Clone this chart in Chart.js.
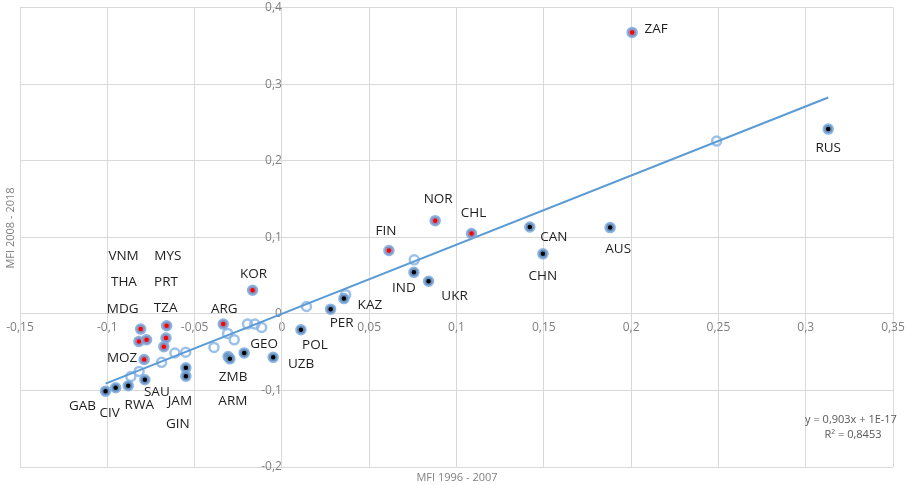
<!DOCTYPE html>
<html>
<head>
<meta charset="utf-8">
<script src="https://cdn.jsdelivr.net/npm/chart.js@4"></script>
<style>
  html, body { margin: 0; padding: 0; background: #fff; }
  #wrap { width: 907px; height: 485px; position: relative; }
</style>
</head>
<body>
<div id="wrap"><canvas id="chart"></canvas></div>
<script>
// countries with black marker
const blackNames = ['GAB', 'CIV', 'RWA', 'SAU', 'JAM', 'GIN', 'ZMB', 'ARM', 'GEO', 'UZB', 'POL', 'PER', 'KAZ', 'IND', 'UKR', 'CAN', 'CHN', 'AUS', 'RUS']
const blackX = [-0.101, -0.0952, -0.088, -0.0785, -0.055, -0.055, -0.0308, -0.0298, -0.0216, -0.005, 0.0109, 0.0279, 0.0355, 0.0756, 0.084, 0.142, 0.1495, 0.188, 0.3129]
const blackY = [-0.101, -0.0965, -0.0939, -0.0861, -0.0705, -0.0814, -0.0558, -0.0588, -0.051, -0.0568, -0.0208, 0.0061, 0.0199, 0.0542, 0.0425, 0.1134, 0.0783, 0.1126, 0.2412]

// countries with red marker
const redNames = ['ZAF', 'NOR', 'CHL', 'FIN', 'KOR', 'ARG', 'MDG', 'THA', 'VNM', 'TZA', 'PRT', 'MYS', 'MOZ']
const redX = [0.2006, 0.0878, 0.1086, 0.0613, -0.0168, -0.0336, -0.0809, -0.0819, -0.0775, -0.066, -0.0664, -0.0676, -0.0789]
const redY = [0.3675, 0.1217, 0.1048, 0.0827, 0.0308, -0.0134, -0.0199, -0.036, -0.0338, -0.0156, -0.0316, -0.0429, -0.0597]

// unlabelled hollow markers
const hollowX = [0.0141, 0.0758, 0.0365, -0.0197, -0.0155, -0.0116, -0.0311, -0.0273, -0.0389, -0.0551, -0.0613, -0.0689, -0.0818, -0.0865, 0.249]
const hollowY = [0.0095, 0.0705, 0.025, -0.0134, -0.0134, -0.0178, -0.0256, -0.034, -0.0438, -0.0502, -0.0511, -0.0633, -0.0752, -0.0818, 0.2256]

// trend line y = slope * x + intercept
const slope = 0.903
const intercept = 1e-17
const r2 = 0.8453

// label offsets in px from marker to text centre
const labelOffset = {
    GAB: [-23, 15], CIV: [-6, 25], RWA: [11, 19], SAU: [12, 12], JAM: [-6, 33], GIN: [-8, 48],
    ZMB: [5, 21], ARM: [3, 42], GEO: [20, -9], UZB: [28, 7], POL: [14, 15], PER: [11, 14],
    KAZ: [26, 7], IND: [-10, 16], UKR: [26, 15], CAN: [24, 10], CHN: [0, 22], AUS: [8, 22],
    RUS: [0, 19], ZAF: [24, -3], NOR: [3, -21], CHL: [2, -20], FIN: [-3, -19], KOR: [1, -16],
    ARG: [1, -15], MDG: [-18, -20], THA: [-15, -59], VNM: [-23, -84], TZA: [-1, -18],
    PRT: [0, -56], MYS: [4, -91], MOZ: [-22, -1]
}

function toPoints(xs, ys) {
    return xs.map((x, i) => ({ x: x, y: ys[i] }))
}

function fmt(v) {
    const r = Math.round(v * 100) / 100
    return String(r).replace('.', ',')
}

// axes sit inside the plot, so they should not push the chart area in
function noPad(scale) {
    scale.paddingTop = 0
    scale.paddingBottom = 0
    scale.paddingLeft = 0
    scale.paddingRight = 0
}

const allX = blackX.concat(redX)
const xMin = Math.min(...allX)
const xMax = Math.max(...allX)

const labelPlugin = {
    id: 'labels',
    afterDatasetsDraw(chart) {
        const ctx = chart.ctx
        const xs = chart.scales.x
        const ys = chart.scales.y
        ctx.save()
        ctx.font = '13.5px "Open Sans"'
        ctx.fillStyle = '#1e1e1e'
        ctx.textAlign = 'center'
        ctx.textBaseline = 'middle'
        const draw = (names, xv, yv) => {
            names.forEach((n, i) => {
                const off = labelOffset[n] || [0, 0]
                ctx.fillText(n, xs.getPixelForValue(xv[i]) + off[0], ys.getPixelForValue(yv[i]) + off[1])
            })
        }
        draw(blackNames, blackX, blackY)
        draw(redNames, redX, redY)

        // axis titles
        ctx.font = '11px "Open Sans"'
        ctx.fillStyle = '#7f7f7f'
        ctx.fillText('MFI 1996 - 2007', 457, 478)
        ctx.save()
        ctx.translate(11, 228)
        ctx.rotate(-Math.PI / 2)
        ctx.fillText('MFI 2008 - 2018', 0, 0)
        ctx.restore()

        // regression text
        ctx.fillStyle = '#595959'
        ctx.fillText('y = ' + String(slope).replace('.', ',') + 'x + 1E-17', 851, 420)
        ctx.fillText('R² = ' + String(r2).replace('.', ','), 853, 435)
        ctx.restore()
    }
}

new Chart(document.getElementById('chart'), {
    type: 'scatter',
    data: {
        datasets: [
            {
                label: 'black',
                data: toPoints(blackX, blackY),
                pointRadius: 4,
                pointHoverRadius: 4,
                pointBackgroundColor: '#000000',
                pointBorderColor: 'rgba(120,168,220,0.85)',
                pointBorderWidth: 3.5
            },
            {
                label: 'red',
                data: toPoints(redX, redY),
                pointRadius: 4,
                pointHoverRadius: 4,
                pointBackgroundColor: '#ff0000',
                pointBorderColor: 'rgba(120,168,220,0.85)',
                pointBorderWidth: 3.5
            },
            {
                label: 'trend',
                type: 'line',
                data: [{ x: xMin, y: slope * xMin + intercept }, { x: xMax, y: slope * xMax + intercept }],
                borderColor: '#5b9bd5',
                borderWidth: 2,
                pointRadius: 0,
                fill: false
            },
            {
                label: 'hollow',
                data: toPoints(hollowX, hollowY),
                pointRadius: 4.5,
                pointHoverRadius: 4.5,
                pointBackgroundColor: 'rgba(255,255,255,0)',
                pointBorderColor: 'rgba(140,182,228,0.85)',
                pointBorderWidth: 2.5
            }
        ]
    },
    options: {
        responsive: true,
        maintainAspectRatio: false,
        animation: false,
        layout: { padding: { left: 20, right: 14, top: 5, bottom: 18 } },
        plugins: {
            legend: { display: false },
            tooltip: { enabled: false }
        },
        scales: {
            x: {
                type: 'linear',
                min: -0.15,
                max: 0.35,
                position: { y: 0 },
                afterFit: noPad,
                grid: { color: '#d9d9d9', lineWidth: 1, drawTicks: false },
                border: { color: '#d9d9d9' },
                ticks: {
                    stepSize: 0.05,
                    padding: 7,
                    color: '#7f7f7f',
                    font: { family: 'Open Sans', size: 12 },
                    callback: (v) => fmt(v)
                }
            },
            y: {
                type: 'linear',
                min: -0.2,
                max: 0.4,
                position: { x: 0 },
                afterFit: noPad,
                grid: { color: '#d9d9d9', lineWidth: 1, drawTicks: false },
                border: { color: '#d9d9d9' },
                ticks: {
                    stepSize: 0.1,
                    padding: 10,
                    color: '#7f7f7f',
                    font: { family: 'Open Sans', size: 12 },
                    callback: (v) => fmt(v)
                }
            }
        }
    },
    plugins: [labelPlugin]
})
</script>
</body>
</html>
